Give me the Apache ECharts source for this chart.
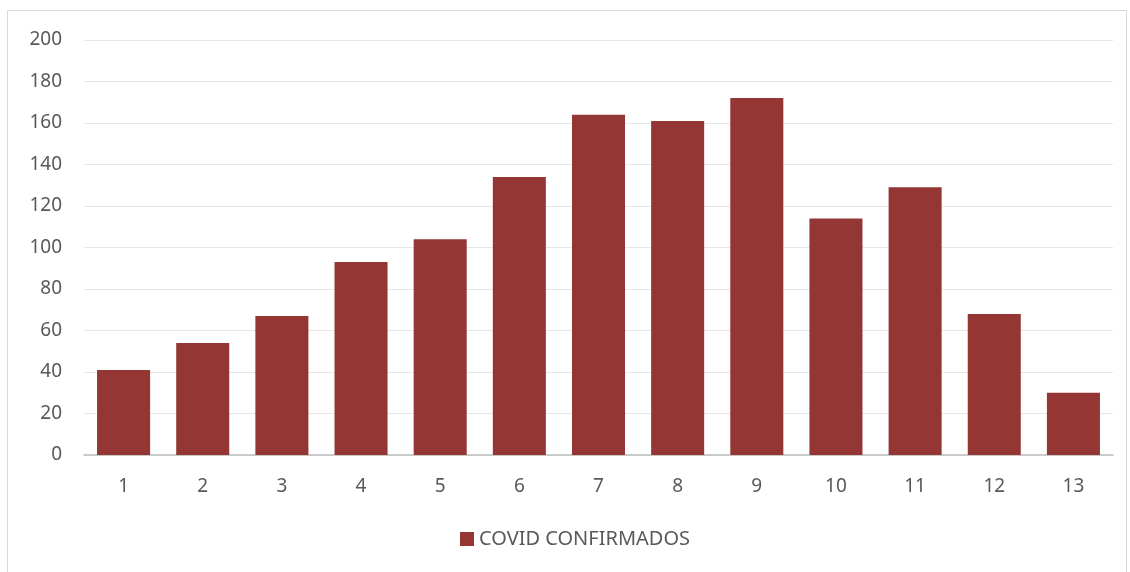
<!DOCTYPE html>
<html><head><meta charset="utf-8">
<script src="https://cdn.jsdelivr.net/npm/echarts@6/dist/echarts.min.js"></script>
<style>
html,body{margin:0;padding:0;background:#fff;}
#frame{position:absolute;left:7px;top:10px;width:1120px;height:600px;border:1.5px solid #d9d9d9;box-sizing:border-box;}
#c{position:absolute;left:0;top:0;width:1130px;height:572px;}
</style></head>
<body>
<div id="frame"></div>
<div id="c"></div>
<script>
const categories = ['1','2','3','4','5','6','7','8','9','10','11','12','13'];
const confirmed = [41,54,67,93,104,134,164,161,172,114,129,68,30];
const seriesName = 'COVID CONFIRMADOS';

const chart = echarts.init(document.getElementById('c'));
const font = 'Noto Sans';
chart.setOption({
  animation:false,
  backgroundColor:'transparent',
  grid:{left:84,right:17,top:40,bottom:117,containLabel:false},
  legend:{
    data:[seriesName], bottom:18, left:455,
    icon:'rect', itemWidth:14, itemHeight:14, itemGap:8,
    textStyle:{color:'#595959',fontSize:20,fontFamily:font}
  },
  xAxis:{
    type:'category', data:categories,
    axisLine:{lineStyle:{color:'#bfbfbf',width:1.5}},
    axisTick:{show:false},
    axisLabel:{color:'#595959',fontSize:19,fontFamily:font,margin:22}
  },
  yAxis:{
    type:'value', min:0, max:200, interval:20,
    axisLine:{show:false}, axisTick:{show:false},
    splitLine:{lineStyle:{color:'#e6e6e6',width:1.2}},
    axisLabel:{color:'#595959',fontSize:19,fontFamily:font,margin:22}
  },
  series:[{
    name:seriesName, type:'bar', data:confirmed,
    barCategoryGap:'33%',
    itemStyle:{color:'#943634'}
  }]
});
</script>
</body></html>
